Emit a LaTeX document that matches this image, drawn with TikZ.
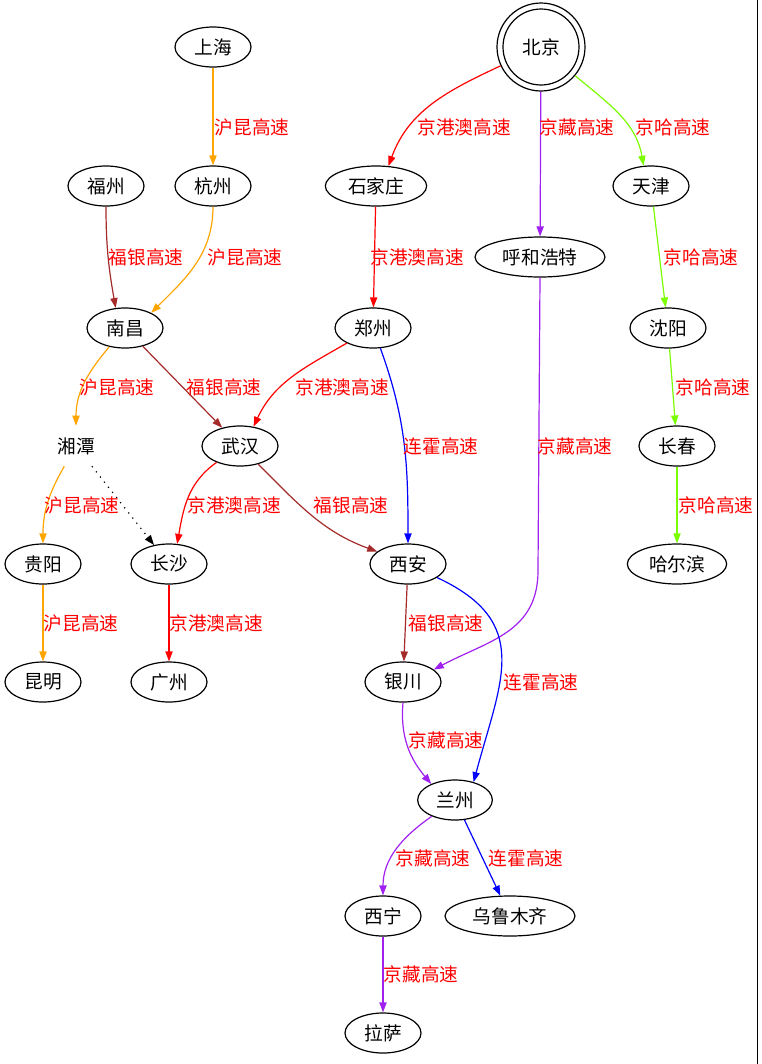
\documentclass[tikz,border=0pt]{standalone}
\usepackage{fontspec}
\setmainfont{Noto Sans CJK SC}
\usepackage{tikz}
\usetikzlibrary{
  shapes.geometric,
  arrows.meta,
}
\definecolor{hkorange}{RGB}{255,165,0}
\definecolor{fybrown}{RGB}{165,42,42}
\definecolor{jzpurple}{RGB}{160,32,240}
\definecolor{jhgreen}{RGB}{124,252,0}

\begin{document}
\begin{tikzpicture}[
  x=0.75pt, y=-0.75pt,
  city/.style={
    ellipse,
    draw=black,
    line width=0.9pt,
    minimum width=57pt,
    minimum height=30pt,
    inner sep=0pt,
    font=\fontsize{14pt}{16pt}\selectfont,
  },
  town/.style={
    minimum width=57pt,
    minimum height=30pt,
    inner sep=0pt,
    font=\fontsize{14pt}{16pt}\selectfont,
  },
  capital/.style={
    circle,
    draw=black,
    line width=0.9pt,
    minimum size=66pt,
    inner sep=0pt,
    font=\fontsize{14pt}{16pt}\selectfont,
  },
  ring/.style={
    circle,
    draw=black,
    line width=0.9pt,
    minimum size=57pt,
    inner sep=0pt,
  },
  lbl/.style={
    text=red,
    inner sep=0pt,
    font=\fontsize{14pt}{16pt}\selectfont,
  },
  road/.style={
    -{Triangle[length=7.5pt, width=5.4pt]},
    line width=0.9pt,
  },
  hukun/.style={road, draw=hkorange},
  fuyin/.style={road, draw=fybrown},
  jga/.style={road, draw=red},
  jzang/.style={road, draw=jzpurple},
  jha/.style={road, draw=jhgreen},
  lianhuo/.style={road, draw=blue},
  detour/.style={road, draw=black, dash pattern=on 0.9pt off 4pt},
]

\useasboundingbox (0,0) rectangle (761,1064);
\draw[line width=0.9pt] (757.5,0) -- (757.5,1064);

% =============================================================================
% Cities
% =============================================================================
\node[capital] (beijing) at (541,47) {北京};
\node[ring] (beijingring) at (beijing.center) {};

\node[city] (shanghai) at (213,47) {上海};
\node[city] (fuzhou) at (106,186) {福州};
\node[city] (hangzhou) at (213,186) {杭州};
\node[city, minimum width=76pt] (shijiazhuang) at (376,186) {石家庄};
\node[city] (tianjin) at (651,186) {天津};
\node[city, minimum width=97.5pt] (huhehaote) at (540,257) {呼和浩特};
\node[city] (nanchang) at (125,328) {南昌};
\node[city] (zhengzhou) at (373,328) {郑州};
\node[city] (shenyang) at (668,328) {沈阳};
\node[town] (xiangtan) at (76,446) {湘潭};
\node[city] (wuhan) at (240,446) {武汉};
\node[city] (changchun) at (677,446) {长春};
\node[city] (guiyang) at (43,564) {贵阳};
\node[city] (changsha) at (169,564) {长沙};
\node[city] (xian) at (408,564) {西安};
\node[city, minimum width=74.5pt] (haerbin) at (677,564) {哈尔滨};
\node[city] (kunming) at (43,682) {昆明};
\node[city] (guangzhou) at (169,682) {广州};
\node[city] (yinchuan) at (403,682) {银川};
\node[city, minimum width=56pt] (lanzhou) at (455,800) {兰州};
\node[city] (xining) at (383,916) {西宁};
\node[city, minimum width=97.5pt] (wulumuqi) at (510,916) {乌鲁木齐};
\node[city] (lasa) at (383,1033) {拉萨};

% =============================================================================
% Highways
% =============================================================================
% 沪昆
\draw[hukun] (shanghai) -- (hangzhou);
\draw[hukun] (hangzhou.south) to[out=-90, in=45] (nanchang.30);
\draw[hukun] (nanchang) to[out=-130, in=90] (xiangtan.north);
\draw[hukun] (xiangtan) to[out=-120, in=90] (guiyang.north);
\draw[hukun] (guiyang) -- (kunming);
\draw[detour] (xiangtan) -- (changsha);

% 福银
\draw[fuyin] (fuzhou.south) to[out=-90, in=100] (nanchang.115);
\draw[fuyin] (nanchang) -- (wuhan);
\draw[fuyin] (wuhan) to[out=-45, in=160] (xian.158);
\draw[fuyin] (xian) -- (yinchuan);

% 京港澳
\draw[jga] (beijing) to[out=-155, in=70] (shijiazhuang.58);
\draw[jga] (shijiazhuang) -- (zhengzhou);
\draw[jga] (zhengzhou) to[out=-150, in=65] (wuhan.55);
\draw[jga] (wuhan) to[out=-145, in=80] (changsha.68);
\draw[jga] (changsha) -- (guangzhou);

% 京藏
\draw[jzang] (beijing) -- (huhehaote);
\draw[jzang] (huhehaote.south) -- ++(-2,293) to[out=-90, in=28, looseness=1.1] (yinchuan.22);
\draw[jzang] (yinchuan.south) to[out=-95, in=130] (lanzhou.146);
\draw[jzang] (lanzhou) to[out=-145, in=90] (xining.north);
\draw[jzang] (xining) -- (lasa);

% 京哈
\draw[jha] (beijing) to[out=-40, in=100] (tianjin.110);
\draw[jha] (tianjin) -- (shenyang);
\draw[jha] (shenyang) -- (changchun);
\draw[jha] (changchun) -- (haerbin);

% 连霍
\draw[lianhuo] (zhengzhou) to[out=-70, in=90] (xian.north);
\draw[lianhuo] (xian) to[out=-25, in=75, looseness=1.3] (lanzhou.44);
\draw[lianhuo] (lanzhou) -- (wulumuqi);

% =============================================================================
% Highway labels
% =============================================================================
\node[lbl] (hk1) at (252,127) {沪昆高速};
\node[lbl] (hk2) at (245,257) {沪昆高速};
\node[lbl] (hk3) at (117,387) {沪昆高速};
\node[lbl] (hk4) at (82,505) {沪昆高速};
\node[lbl] (hk5) at (81,623) {沪昆高速};

\node[lbl] (fy1) at (146,257) {福银高速};
\node[lbl] (fy2) at (224,387) {福银高速};
\node[lbl] (fy3) at (351,505) {福银高速};
\node[lbl] (fy4) at (446,623) {福银高速};

\node[lbl] (jga1) at (464,127) {京港澳高速};
\node[lbl] (jga2) at (417,257) {京港澳高速};
\node[lbl] (jga3) at (342,387) {京港澳高速};
\node[lbl] (jga4) at (234,505) {京港澳高速};
\node[lbl] (jga5) at (216,623) {京港澳高速};

\node[lbl] (jz1) at (577,127) {京藏高速};
\node[lbl] (jz2) at (575,446) {京藏高速};
\node[lbl] (jz3) at (446,740) {京藏高速};
\node[lbl] (jz4) at (433,858) {京藏高速};
\node[lbl] (jz5) at (421,974) {京藏高速};

\node[lbl] (jh1) at (673,127) {京哈高速};
\node[lbl] (jh2) at (701,257) {京哈高速};
\node[lbl] (jh3) at (713,387) {京哈高速};
\node[lbl] (jh4) at (716,505) {京哈高速};

\node[lbl] (lh1) at (441,446) {连霍高速};
\node[lbl] (lh2) at (541,682) {连霍高速};
\node[lbl] (lh3) at (526,858) {连霍高速};

\end{tikzpicture}
\end{document}
